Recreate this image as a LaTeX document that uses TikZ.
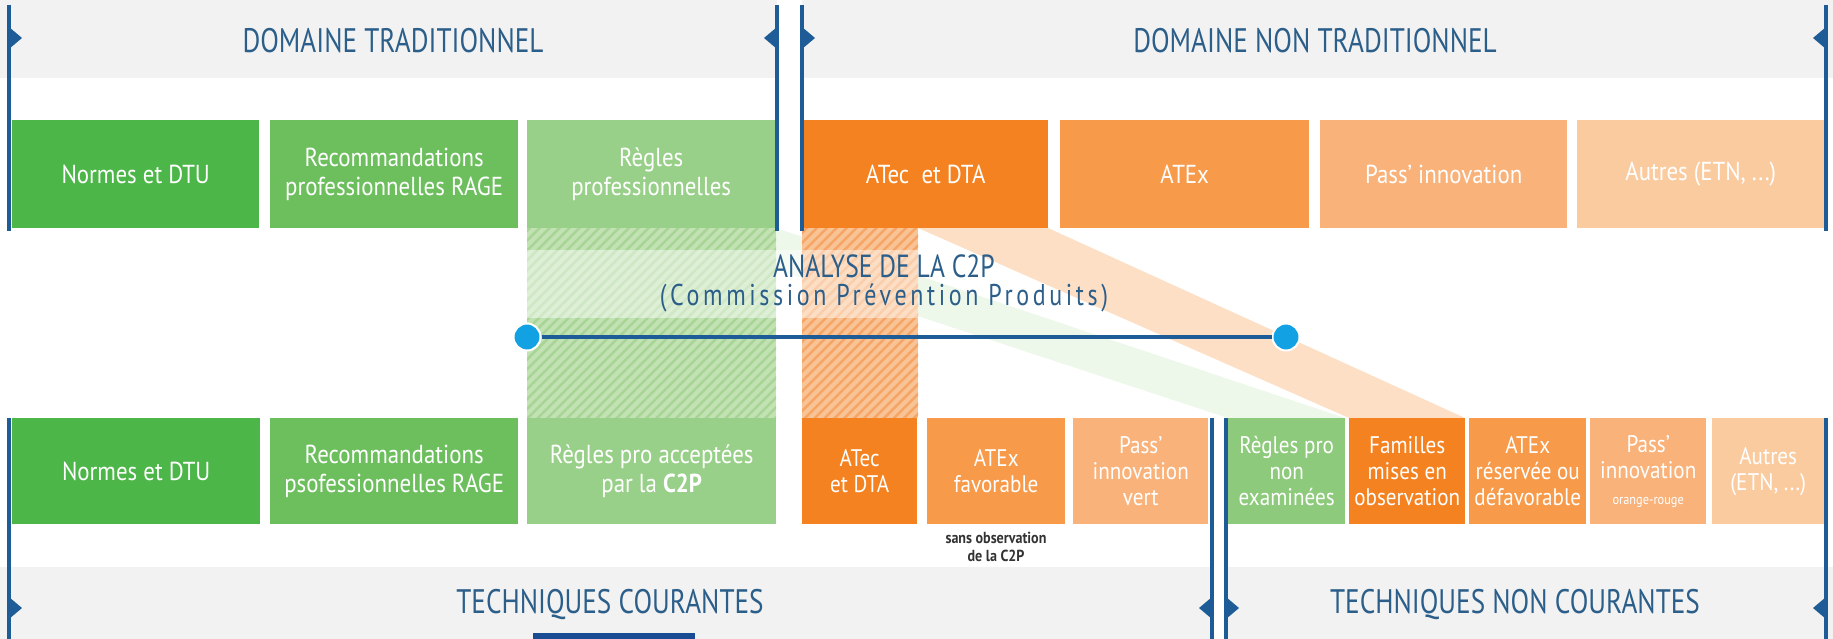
\documentclass[tikz,border=0pt]{standalone}
\usepackage{fontspec}
\setmainfont{PT Sans}
\newfontfamily\headfont{PT Sans}[FakeStretch=0.8]
\newfontfamily\boxfont{PT Sans}[FakeStretch=0.88]
\newfontfamily\widefont{PT Sans}[FakeStretch=0.8,LetterSpace=12]
\usepackage{xcolor}
\usepackage{tikz}
\usetikzlibrary{patterns.meta}
\definecolor{band}{HTML}{F2F2F2}
\definecolor{rule}{HTML}{1D5C97}
\definecolor{title}{HTML}{2C5E8A}
\definecolor{dotblue}{HTML}{12A2E4}
\definecolor{navy}{HTML}{194C93}
\definecolor{vertA}{HTML}{4CB648}
\definecolor{vertB}{HTML}{6DBF5E}
\definecolor{vertC}{HTML}{99D089}
\definecolor{vertD}{HTML}{8DCA7B}
\definecolor{hatchG}{HTML}{C2E2B4}
\definecolor{stripeG}{HTML}{A8D595}
\definecolor{orA}{HTML}{F58220}
\definecolor{orB}{HTML}{F79A4A}
\definecolor{orC}{HTML}{F9B27A}
\definecolor{orD}{HTML}{FBCBA0}
\definecolor{hatchO}{HTML}{F9C495}
\definecolor{stripeO}{HTML}{F7A566}
\tikzset{
  boxT/.style={anchor=north west, inner sep=0pt, align=center, text=white,
    minimum height=108pt, font=\boxfont\fontsize{26}{29}\selectfont},
  boxB/.style={anchor=north west, inner sep=0pt, align=center, text=white,
    minimum height=106pt, font=\boxfont\fontsize{24}{26}\selectfont},
  boxBw/.style={boxB, font=\boxfont\fontsize{26}{29}\selectfont},
  headtxt/.style={text=title, font=\headfont\fontsize{34}{36}\selectfont},
  rulev/.style={draw=rule, line width=3.5pt},
  c2pline/.style={draw=rule, line width=4pt},
  c2pdot/.style={circle, fill=dotblue, draw=white, line width=2pt, minimum size=27pt, inner sep=0pt},
  note/.style={align=center, text=black!80, font=\boxfont\bfseries\fontsize{16}{18}\selectfont},
}
\begin{document}
\begin{tikzpicture}[x=1pt, y=-1pt]
  \useasboundingbox (0,0) rectangle (1833,639);
  % bandeaux gris
  \fill[band] (0,0) rectangle (777,78);
  \fill[band] (802,0) rectangle (1833,78);
  \fill[band] (0,567) rectangle (1212,639);
  \fill[band] (1226,567) rectangle (1833,639);
  \fill[navy] (533,633) rectangle (695,639);
  % bandes diagonales
  \fill[orA, opacity=0.26] (918,228) -- (1048,228) -- (1465,418) -- (1349,418) -- cycle;
  \fill[vertC, opacity=0.18] (650,228) -- (776,228) -- (1345,418) -- (1228,418) -- cycle;
  % zones hachurees
  \fill[hatchG] (527,228) rectangle (776,418);
  \fill[pattern={Lines[angle=45,distance=7pt,line width=2.5pt]}, pattern color=stripeG] (527,228) rectangle (776,418);
  \fill[hatchO] (802,228) rectangle (918,418);
  \fill[pattern={Lines[angle=45,distance=7pt,line width=2.5pt]}, pattern color=stripeO] (802,228) rectangle (918,418);
  \fill[white, opacity=0.45] (527,250) rectangle (918,318);
  % titres
  \node[headtxt] (domTrad) at (393,41) {DOMAINE TRADITIONNEL};
  \node[headtxt] (domNonTrad) at (1315,41) {DOMAINE NON TRADITIONNEL};
  \node[headtxt] (techCour) at (610,605) {TECHNIQUES COURANTES};
  \node[headtxt] (techNonCour) at (1515,605) {TECHNIQUES NON COURANTES};
  \node[text=title, align=center, inner sep=0pt, font=\headfont\fontsize{32}{28}\selectfont] (analyse) at (884,283)
    {ANALYSE DE LA C2P\\{\widefont\fontsize{30}{28}\selectfont (Commission Prévention Produits)}};
  % ligne C2P
  \node[c2pdot] (c2pL) at (527,337) {};
  \node[c2pdot] (c2pR) at (1286,337) {};
  \draw[c2pline] (c2pL) -- (c2pR);
  % cases du haut
  \node[boxT, fill=vertA, minimum width=247pt] (tNormes) at (12,120) {Normes et DTU};
  \node[boxT, fill=vertB, minimum width=248pt] (tRage) at (270,120) {Recommandations\\professionnelles RAGE};
  \node[boxT, fill=vertC, minimum width=248pt] (tRegles) at (527,120) {Règles\\professionnelles};
  \node[boxT, fill=orA, minimum width=245pt] (tAtec) at (803,120) {ATec\ \ et DTA};
  \node[boxT, fill=orB, minimum width=249pt] (tAtex) at (1060,120) {ATEx};
  \node[boxT, fill=orC, minimum width=247pt] (tPass) at (1320,120) {Pass’ innovation};
  \node[boxT, fill=orD, minimum width=247pt] (tAutres) at (1577,120) {Autres (ETN, ...)};
  % cases du bas
  \node[boxBw, fill=vertA, minimum width=248pt] (bNormes) at (12,418) {Normes et DTU};
  \node[boxBw, fill=vertB, minimum width=248pt] (bRage) at (270,418) {Recommandations\\psofessionnelles RAGE};
  \node[boxBw, fill=vertC, minimum width=249pt] (bRegles) at (527,418) {Règles pro acceptées\\par la \textbf{C2P}};
  \node[boxB, fill=orA, minimum width=115pt] (bAtec) at (802,418) {ATec\\et DTA};
  \node[boxB, fill=orB, minimum width=138pt] (bAtexF) at (927,418) {ATEx\\favorable};
  \node[boxB, fill=orC, minimum width=135pt] (bPassV) at (1073,418) {Pass’\\innovation\\vert};
  \node[boxB, fill=vertD, minimum width=117pt] (bNonEx) at (1228,418) {Règles pro\\non\\examinées};
  \node[boxB, fill=orA, minimum width=116pt] (bFam) at (1349,418) {Familles\\mises en\\observation};
  \node[boxB, fill=orB, minimum width=117pt] (bAtexR) at (1469,418) {ATEx\\réservée ou\\défavorable};
  \node[boxB, fill=orC, minimum width=116pt] (bPassO) at (1590,418) {Pass’\\innovation\\{\fontsize{14}{16}\selectfont orange-rouge}};
  \node[boxB, fill=orD, minimum width=112pt] (bAutres) at (1712,418) {Autres\\(ETN, ...)};
  \node[note] (sansObs) at (996,547) {sans observation\\de la C2P};
  % traits verticaux et reperes
  \draw[rulev] (9,5) -- (9,231);
  \draw[rulev] (777,5) -- (777,231);
  \draw[rulev] (802,5) -- (802,231);
  \draw[rulev] (1826,5) -- (1826,231);
  \draw[rulev] (9,418) -- (9,639);
  \draw[rulev] (1212,418) -- (1212,639);
  \draw[rulev] (1226,418) -- (1226,639);
  \draw[rulev] (1826,418) -- (1826,639);
  \fill[rule] (9,27) -- ++(13,11) -- ++(-13,11) -- cycle;
  \fill[rule] (777,27) -- ++(-13,11) -- ++(13,11) -- cycle;
  \fill[rule] (802,27) -- ++(13,11) -- ++(-13,11) -- cycle;
  \fill[rule] (1826,27) -- ++(-13,11) -- ++(13,11) -- cycle;
  \fill[rule] (9,597) -- ++(13,11) -- ++(-13,11) -- cycle;
  \fill[rule] (1212,597) -- ++(-13,11) -- ++(13,11) -- cycle;
  \fill[rule] (1226,597) -- ++(13,11) -- ++(-13,11) -- cycle;
  \fill[rule] (1826,597) -- ++(-13,11) -- ++(13,11) -- cycle;
\end{tikzpicture}
\end{document}
